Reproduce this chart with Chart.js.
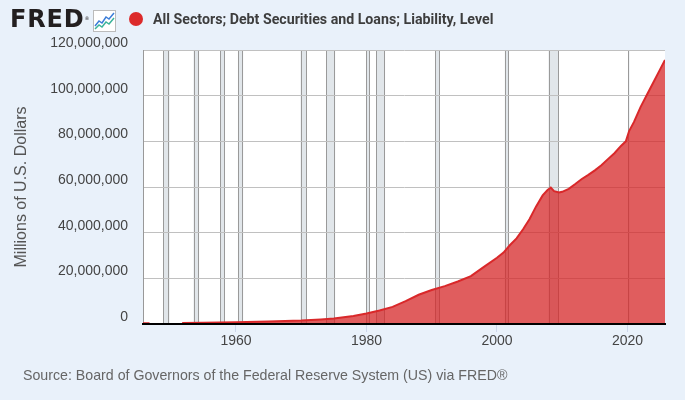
<!DOCTYPE html>
<html>
<head>
<meta charset="utf-8">
<script src="https://cdn.jsdelivr.net/npm/chart.js@4.4.1/dist/chart.umd.min.js"></script>
<style>
  html, body { margin: 0; padding: 0; }
  body { width: 685px; height: 400px; background: #e9f1fa; position: relative; overflow: hidden; font-family: "Liberation Sans", Arial, sans-serif; }
  #wrap { position: absolute; left: 0; top: 0; width: 685px; height: 400px; }
  .logo { position: absolute; left: 10px; top: 5px; font: bold 24px "DejaVu Sans", sans-serif; color: #231f20; letter-spacing: 0.8px; }
  .logo sup { font-size: 5px; font-weight: normal; position: relative; top: 2px; }
  .icon { position: absolute; left: 93px; top: 10px; }
  .dot { position: absolute; left: 129px; top: 12px; width: 14px; height: 14px; border-radius: 50%; background: #dc2a2a; }
  .title { position: absolute; left: 153px; top: 11px; font: bold 14.2px Roboto, sans-serif; color: #3d3d3d; }
  .source { position: absolute; left: 23px; top: 367px; font-size: 14.2px; color: #666; }
</style>
</head>
<body>
<div id="wrap"><canvas id="fred-graph" width="685" height="400"></canvas></div>
<div class="logo">FRED<sup>®</sup></div>
<svg class="icon" width="23" height="22" viewBox="0 0 23 22">
  <rect x="0.5" y="0.5" width="22" height="21" fill="#fff" stroke="#bbb"/>
  <polyline points="2,16 6,11 9,13 13,7 16,9 21,3" fill="none" stroke="#3b7dd8" stroke-width="1.5"/>
  <polyline points="2,19 6,15 9,17 13,12 16,14 21,8" fill="none" stroke="#3bb39a" stroke-width="1.5"/>
</svg>
<div class="dot"></div>
<div class="title">All Sectors; Debt Securities and Loans; Liability, Level</div>
<div class="source">Source: Board of Governors of the Federal Reserve System (US) via FRED®</div>

<script>
// dates as decimal years, values in millions of U.S. dollars
var dates = [1945.75, 1946.75, 1947.75, 1951.75, 1955, 1960, 1965, 1970, 1973, 1975, 1978, 1980, 1982, 1984,
    1986, 1988, 1990, 1992, 1994, 1996, 1998, 2000, 2001, 2002, 2003, 2004, 2005, 2006, 2007,
    2007.75, 2008.25, 2008.75, 2009.5, 2010, 2011, 2012, 2013, 2014, 2015, 2016, 2017, 2018, 2019,
    2019.75, 2020.25, 2021, 2022, 2023, 2024, 2025, 2025.75]
var debt = [360000, 360000, null, 470000, 570000, 780000, 1100000, 1500000, 2000000, 2400000, 3500000, 4600000, 5900000, 7500000,
    10000000, 12800000, 14900000, 16600000, 18600000, 21000000, 25000000, 29000000, 31300000, 34600000, 37500000, 41500000, 46000000, 51500000, 56300000,
    58700000, 59700000, 58200000, 57600000, 57900000, 59200000, 61300000, 63500000, 65300000, 67300000, 69500000, 72200000, 74800000, 78000000,
    80000000, 84500000, 88500000, 95000000, 100500000, 106000000, 111500000, 115600000]
var xTicks = [1960, 1980, 2000, 2020]
var yTicks = [0, 20000000, 40000000, 60000000, 80000000, 100000000, 120000000]
// NBER recessions [start, end]
var recessionStart = [1945.1, 1948.85, 1953.5, 1957.6, 1960.3, 1969.9, 1973.85, 1980.0, 1981.5, 1990.5, 2001.2, 2007.9, 2020.1]
var recessionEnd = [1945.8, 1949.8, 1954.35, 1958.3, 1961.1, 1970.85, 1975.2, 1980.5, 1982.85, 1991.2, 2001.85, 2009.45, 2020.3]

var points = dates.map(function (d, i) { return { x: d, y: debt[i] } })

var recessionBands = {
    id: 'recessionBands',
    beforeDraw(chart) {
        var ctx = chart.ctx
        var area = chart.chartArea
        var xs = chart.scales.x
        ctx.save()
        ctx.fillStyle = '#ffffff'
        ctx.fillRect(area.left, area.top, area.right - area.left, area.bottom - area.top)
        ctx.beginPath()
        ctx.rect(area.left, area.top, area.right - area.left, area.bottom - area.top)
        ctx.clip()
        for (var i = 0; i < recessionStart.length; i++) {
            var x0 = xs.getPixelForValue(recessionStart[i])
            var x1 = xs.getPixelForValue(recessionEnd[i])
            ctx.fillStyle = '#e1e6ea'
            ctx.fillRect(x0, area.top, x1 - x0, area.bottom - area.top)
            ctx.strokeStyle = '#9a9a9a'
            ctx.lineWidth = 1
            ctx.beginPath()
            ctx.moveTo(Math.round(x0) + 0.5, area.top)
            ctx.lineTo(Math.round(x0) + 0.5, area.bottom)
            ctx.moveTo(Math.round(x1) - 0.5, area.top)
            ctx.lineTo(Math.round(x1) - 0.5, area.bottom)
            ctx.stroke()
        }
        ctx.restore()
    }
}

new Chart(document.getElementById('fred-graph'), {
    type: 'line',
    data: {
        datasets: [{
            data: points,
            borderColor: '#d9282a',
            backgroundColor: 'rgba(214, 39, 40, 0.75)',
            borderWidth: 2,
            pointRadius: 0,
            tension: 0,
            fill: 'origin',
            spanGaps: false,
        }]
    },
    options: {
        responsive: false,
        animation: false,
        events: [],
        layout: { padding: { top: 50, right: 20, bottom: 0, left: 0 } },
        plugins: { legend: { display: false }, tooltip: { enabled: false } },
        scales: {
            x: {
                type: 'linear',
                min: 1945.75,
                max: 2025.75,
                afterFit(scale) { scale.height = 76 },
                afterBuildTicks(scale) { scale.ticks = xTicks.map(function (v) { return { value: v } }) },
                grid: { drawOnChartArea: false, drawTicks: true, tickLength: 8, tickColor: '#ccd6eb', color: '#ccd6eb' },
                border: { display: true, color: '#000', width: 2, z: 1 },
                ticks: {
                    padding: 1,
                    color: '#444',
                    font: { family: 'Liberation Sans', size: 14 },
                    callback: function (v) { return String(v) },
                    maxRotation: 0,
                }
            },
            y: {
                min: 0,
                max: 120000000,
                afterFit(scale) { scale.width = 143 },
                afterBuildTicks(scale) { scale.ticks = yTicks.map(function (v) { return { value: v } }) },
                grid: { color: '#c0c0c0', lineWidth: 1, drawTicks: false },
                border: { display: true, color: '#999', width: 1 },
                ticks: {
                    padding: 15,
                    labelOffset: -7,
                    color: '#444',
                    font: { family: 'Liberation Sans', size: 14 },
                    callback: function (v) { return v.toLocaleString('en-US') }
                },
                title: {
                    display: true,
                    text: 'Millions of U.S. Dollars',
                    color: '#555',
                    font: { family: 'Liberation Sans', size: 16 },
                    padding: { top: 12, bottom: 0 }
                }
            }
        }
    },
    plugins: [recessionBands]
})
</script>
</body>
</html>
